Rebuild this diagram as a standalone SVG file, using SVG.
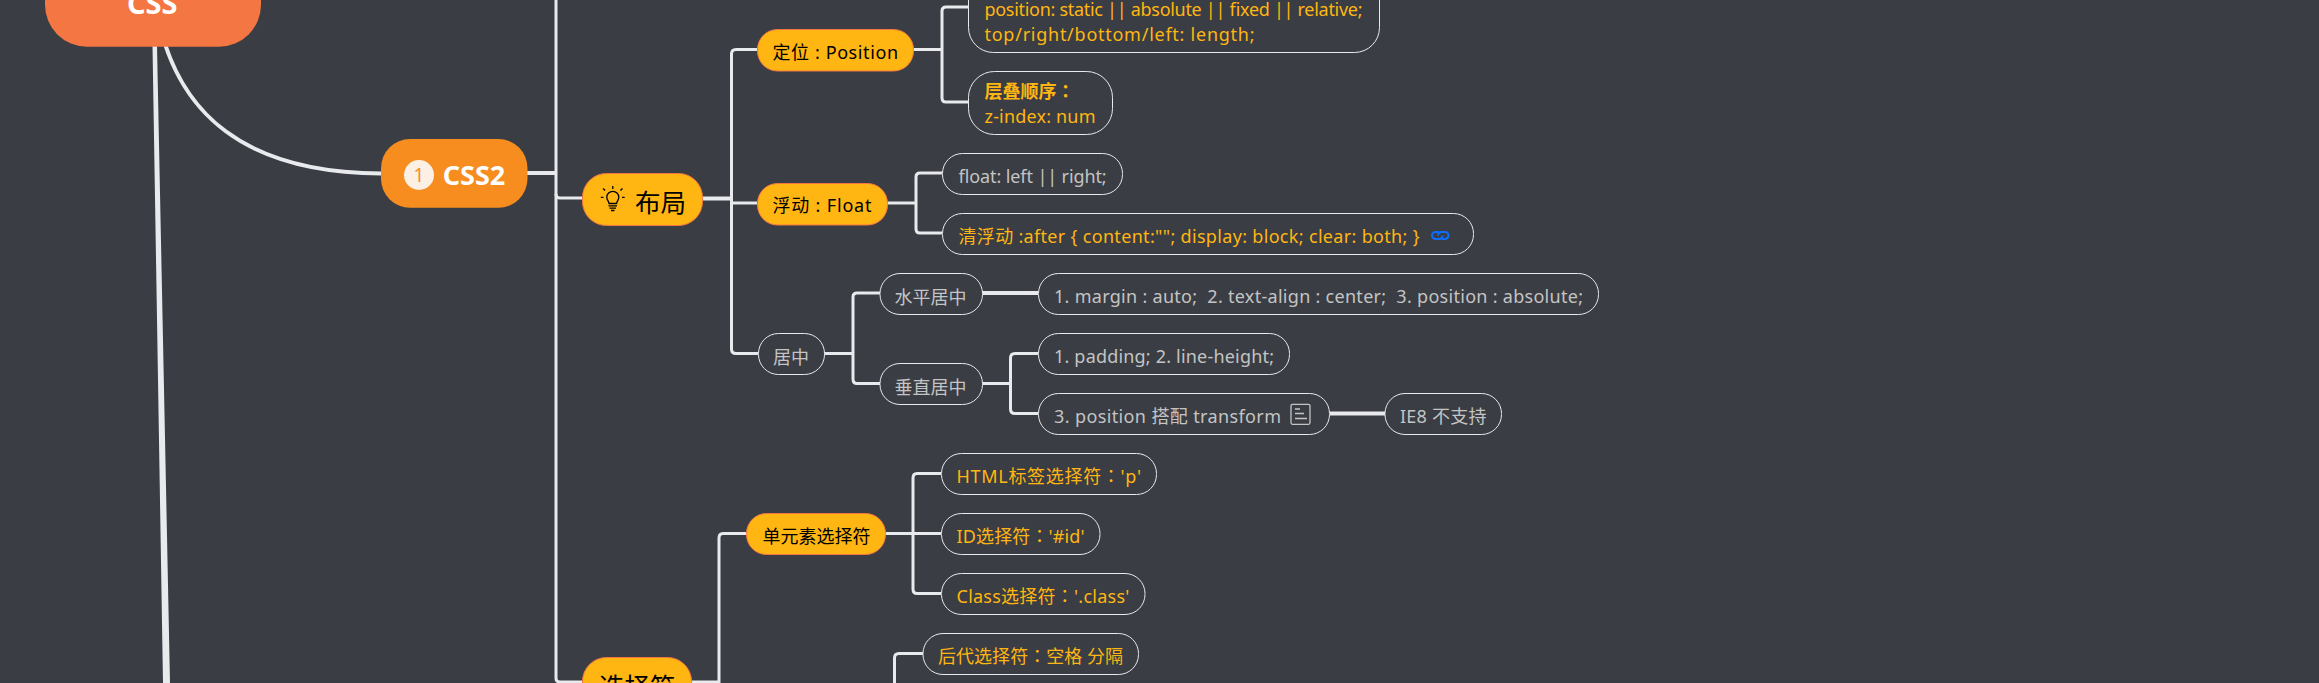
<svg xmlns="http://www.w3.org/2000/svg" width="2319" height="683" viewBox="0 0 2319 683">
<style>
text{font-family:"Noto Sans","Noto Sans CJK SC",sans-serif;font-size:18px;white-space:pre}
.t{font-family:"Noto Sans CJK TC",sans-serif}
.c{fill:none;stroke:#e8eaed;stroke-width:3}
.f{fill:#ffb612;stroke:#f47642;stroke-width:1}
.o{fill:#3a3d43;stroke:#e8eaed;stroke-width:1}
.k{fill:#000}
.y{fill:#ffb612}
.g{fill:#c4c4c4}
.i{fill:none;stroke:#c4c4c4;stroke-width:1.3}
</style>
<rect width="2319" height="683" fill="#3a3d43"/>
<g id="connectors">
<path d="M152.5 46 L157 46 L170 683 L163 683Z" fill="#e8eaed"/>
<path d="M165 44 C185 105 235 173 381 173.5" fill="none" stroke="#e8eaed" stroke-width="4"/>
<path class="c" style="stroke-width:4" d="M527 173H556"/>
<path class="c" d="M556 0V678Q556 682 560 682H582"/>
<path class="c" d="M556 194Q556 198 560 198H582"/>
<path class="c" style="stroke-width:4" d="M702 198.5H731"/>
<path class="c" d="M757 49.5H736Q731.500 49.500 731.500 54V349Q731.500 353.500 736 353.500H758"/>
<path class="c" d="M731.500 203H757"/>
<path class="c" d="M913 49.500H942"/>
<path class="c" d="M968 7H946Q942 7 942 11V98Q942 102 946 102H968"/>
<path class="c" d="M887 203H916"/>
<path class="c" d="M942 173H920Q916 173 916 177V229Q916 233 920 233H942"/>
<path class="c" d="M824 353.500H853"/>
<path class="c" d="M880 293H857Q853 293 853 297V379Q853 383.500 857 383.500H880"/>
<path class="c" style="stroke-width:4" d="M982 293H1038"/>
<path class="c" d="M982 383.500H1011"/>
<path class="c" d="M1038 353.500H1015Q1010.500 353.500 1010.500 358V409Q1010.500 413.500 1015 413.500H1038"/>
<path class="c" style="stroke-width:4" d="M1330 413.500H1385"/>
<path class="c" d="M691 682H719V538Q719 533.500 723 533.500H747"/>
<path class="c" d="M885 533.500H941"/>
<path class="c" d="M941 473.500H917Q913 473.500 913 478V589Q913 593.500 917 593.500H941"/>
<path class="c" d="M923 653.500H899Q894.500 653.500 894.500 658V683"/>
</g>
<g id="n-css"><rect x="45" y="-50" width="216" height="96.700" rx="42" fill="#f47642"/><text x="127" y="13.500" style="font-size:29px;font-weight:700" fill="#fff">CSS</text></g>
<g id="n-css2"><rect x="381" y="139" width="146.500" height="68.700" rx="29" fill="#f78d1f"/><circle cx="419" cy="175" r="15" fill="#fcf0e4"/><text x="419" y="182" text-anchor="middle" style="font-size:19px" fill="#f78d1f">1</text><text x="442.700" y="184.500" style="font-size:27px;font-weight:700" fill="#fff">CSS2</text></g>
<g id="n-layout"><rect class="f" x="582.500" y="173.500" width="120" height="52" rx="24"/>
<path d="M609 203.500C609 201 606.800 200.500 606.800 197.300A6 6 0 1 1 618.800 197.300C618.800 200.500 616.600 201 616.600 203.500ZM608.500 205.800H617M609.500 208.200H616M611 210.500H614.500M612.800 186V189M603 188.500L605.200 190.500M622.500 188.500L620.400 190.500M600.800 197.300H603.500M622 197.300H624.700" fill="none" stroke="#000" stroke-width="1.300"/>
<text class="k" x="635" y="212" style="font-size:25.500px">布局</text></g>
<g id="n-position"><rect class="f" x="757.500" y="29.500" width="156" height="41.500" rx="20"/><text class="k" x="772.500" y="58.500" textLength="125.500">定位 : Position</text></g>
<g id="n-pos-detail"><rect class="o" x="968.500" y="-30" width="411" height="82.500" rx="25"/><text class="y" x="984.500" y="16" textLength="378">position: static || absolute || fixed || relative;</text><text class="y" x="984.500" y="41" textLength="270">top/right/bottom/left: length;</text></g>
<g id="n-zindex"><rect class="o" x="968.500" y="71.500" width="144" height="63" rx="26"/><text class="y" x="984.500" y="98" style="font-weight:700">层叠顺序<tspan class="t">：</tspan></text><text class="y" x="984.500" y="123" textLength="111">z-index: num</text></g>
<g id="n-float"><rect class="f" x="757.500" y="183.500" width="130" height="41.500" rx="20"/><text class="k" x="772.500" y="212" textLength="99">浮动 : Float</text></g>
<g id="n-float-detail"><rect class="o" x="942.500" y="153.500" width="180" height="41" rx="20"/><text class="g" x="958.500" y="182.500" textLength="148">float: left || right;</text></g>
<g id="n-clear"><rect class="o" x="942.500" y="213.500" width="531" height="41" rx="20"/><text class="y" x="958.500" y="243" textLength="461">清浮动 :after { content:""; display: block; clear: both; }</text>
<path d="M1439 232H1435.500A3.500 3.500 0 0 0 1435.500 239H1439A3.500 3.500 0 0 0 1442.500 235.500M1438 235.500A3.500 3.500 0 0 1 1441.500 232H1445A3.500 3.500 0 0 1 1445 239H1441.500" fill="none" stroke="#0d6efd" stroke-width="2"/></g>
<g id="n-center"><rect class="o" x="758.500" y="333.500" width="66" height="41" rx="20"/><text class="g" x="773" y="363.500">居中</text></g>
<g id="n-hcenter"><rect class="o" x="880" y="273.500" width="102.500" height="41" rx="20"/><text class="g" x="894.600" y="303.500">水平居中</text></g>
<g id="n-hcenter-detail"><rect class="o" x="1038.500" y="273.500" width="560" height="41" rx="20"/><text class="g" x="1054" y="303" textLength="529">1. margin : auto;  2. text-align : center;  3. position : absolute;</text></g>
<g id="n-vcenter"><rect class="o" x="880" y="363.500" width="102.500" height="41" rx="20"/><text class="g" x="894.600" y="393.500">垂直居中</text></g>
<g id="n-padding"><rect class="o" x="1038.500" y="333.500" width="251" height="41" rx="20"/><text class="g" x="1054" y="363" textLength="220">1. padding; 2. line-height;</text></g>
<g id="n-transform"><rect class="o" x="1038.500" y="393.500" width="291" height="41" rx="20"/><text class="g" x="1054" y="423" textLength="227">3. position 搭配 transform</text>
<rect class="i" x="1291" y="404.300" width="19" height="20" rx="1.500"/><path class="i" d="M1295 409H1300M1295 413.500H1304M1295 418.500H1307"/></g>
<g id="n-ie8"><rect class="o" x="1385" y="393.500" width="116.500" height="41" rx="20"/><text class="g" x="1400" y="423" textLength="86.500">IE8 不支持</text></g>
<g id="n-single"><rect class="f" x="746.500" y="513.500" width="139" height="41" rx="20"/><text class="k" x="762.500" y="543">单元素选择符</text></g>
<g id="n-html"><rect class="o" x="941.500" y="453.500" width="215" height="41" rx="20"/><text class="y" x="956.500" y="483" textLength="184.500">HTML标签选择符<tspan class="t">：</tspan>'p'</text></g>
<g id="n-id"><rect class="o" x="941.500" y="513.500" width="158.500" height="41" rx="20"/><text class="y" x="956.500" y="543" textLength="128">ID选择符<tspan class="t">：</tspan>'#id'</text></g>
<g id="n-class"><rect class="o" x="941.500" y="573.500" width="203.500" height="41" rx="20"/><text class="y" x="956.500" y="603" textLength="172.800">Class选择符<tspan class="t">：</tspan>'.class'</text></g>
<g id="n-desc"><rect class="o" x="923" y="633.500" width="215.500" height="41" rx="20"/><text class="y" x="938" y="663" textLength="185">后代选择符<tspan class="t">：</tspan>空格 分隔</text></g>
<g id="n-selector"><rect class="f" x="582.500" y="657.500" width="109" height="52" rx="24"/><text class="k" x="599" y="696" style="font-size:25.500px">选择符</text></g>
</svg>
